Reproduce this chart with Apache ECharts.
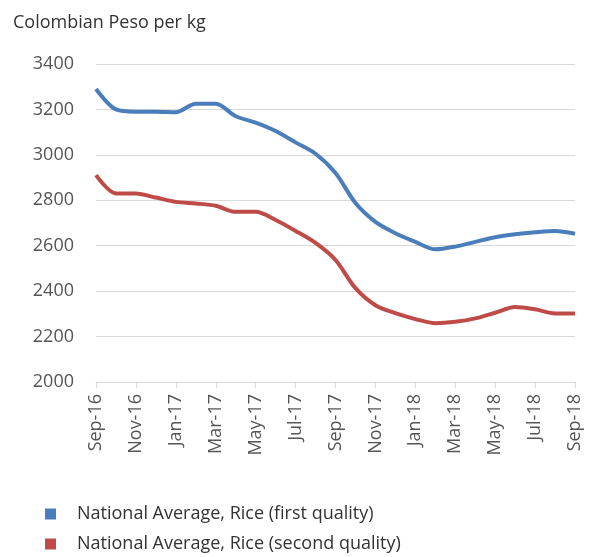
<!DOCTYPE html>
<html>
<head>
<meta charset="utf-8">
<script src="https://cdn.jsdelivr.net/npm/echarts@6/dist/echarts.min.js"></script>
<style>html,body{margin:0;padding:0;background:#fff}#c{width:597px;height:557px}</style>
</head>
<body>
<div id="c"></div>
<script>
const months = ['Sep-16','Oct-16','Nov-16','Dec-16','Jan-17','Feb-17','Mar-17','Apr-17','May-17','Jun-17','Jul-17','Aug-17','Sep-17','Oct-17','Nov-17','Dec-17','Jan-18','Feb-18','Mar-18','Apr-18','May-18','Jun-18','Jul-18','Aug-18','Sep-18'];
const firstQuality = [3290,3200,3190,3190,3188,3225,3225,3170,3142,3105,3055,3005,2920,2788,2705,2655,2617,2584,2596,2617,2637,2650,2659,2665,2653];
const secondQuality = [2911,2830,2830,2812,2793,2786,2776,2749,2749,2713,2665,2612,2537,2413,2338,2303,2277,2259,2265,2280,2305,2330,2320,2302,2302];
const yTicks = {min:2000, max:3400, interval:200};
const seriesNames = ['National Average, Rice (first quality)','National Average, Rice (second quality)'];
const FONT = 'Open Sans';
const legendText = {fontFamily:FONT,fontSize:18,color:'#333',padding:[0,0,0,16]};
const chart = echarts.init(document.getElementById('c'));
chart.setOption({
  animation:false,
  backgroundColor:'#fff',
  title:{text:'Colombian Peso per kg',left:8,top:9,textStyle:{fontFamily:FONT,fontSize:18,fontWeight:'normal',color:'#333'}},
  grid:{left:96,right:22,top:64,bottom:175},
  legend:[
    {orient:'horizontal',left:40,top:500,itemWidth:11,itemHeight:11,icon:'rect',textStyle:legendText,data:[seriesNames[0]]},
    {orient:'horizontal',left:40,top:530,itemWidth:11,itemHeight:11,icon:'rect',textStyle:legendText,data:[seriesNames[1]]}
  ],
  xAxis:{type:'category',data:months,boundaryGap:false,
    axisLine:{lineStyle:{color:'#d9d9d9'}},
    axisTick:{show:true,interval:1,length:6,lineStyle:{color:'#d9d9d9'}},
    axisLabel:{interval:1,rotate:90,fontFamily:FONT,fontSize:18,color:'#555',margin:12}},
  yAxis:{type:'value',min:yTicks.min,max:yTicks.max,interval:yTicks.interval,
    axisLine:{show:false},axisTick:{show:false},
    splitLine:{lineStyle:{color:'#d9d9d9'}},
    axisLabel:{fontFamily:FONT,fontSize:18,color:'#555',margin:22,formatter:v=>String(v)}},
  series:[
    {name:seriesNames[0],type:'line',data:firstQuality,smooth:0.3,symbol:'none',lineStyle:{width:4,color:'#4a7ebb'},itemStyle:{color:'#4a7ebb'}},
    {name:seriesNames[1],type:'line',data:secondQuality,smooth:0.3,symbol:'none',lineStyle:{width:4,color:'#be4b48'},itemStyle:{color:'#be4b48'}}
  ]
});
</script>
</body>
</html>
